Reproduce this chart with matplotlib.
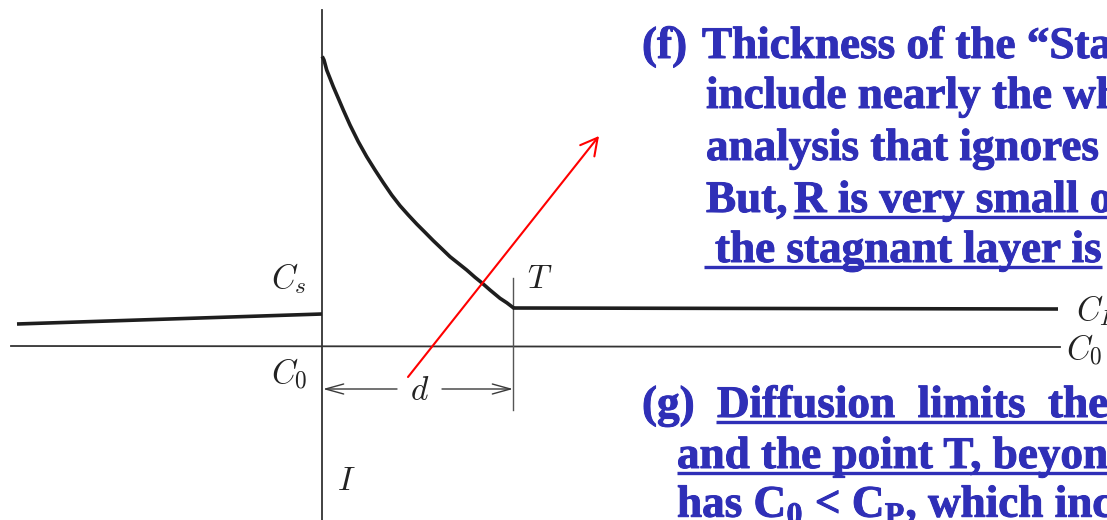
import matplotlib.pyplot as plt
import matplotlib.patheffects as pe

# concentration profile near the interface, in slide pixel coordinates
left_x = [17, 322]
left_y = [324, 314]
curve_x = [323, 324, 326.7, 330, 333.3, 338.3, 343.3, 350, 358.3, 366.7, 375,
           383.3, 391.7, 400, 408.3, 416.7, 425, 433.3, 441.7, 450, 458.3,
           466.7, 475, 481.7, 490, 500, 506.7, 513]
curve_y = [58, 60, 70, 78.3, 86.7, 98.3, 110, 125, 141.7, 156.7, 170, 182.7,
           195, 205.7, 215, 224, 232.3, 240.7, 248.7, 256.7, 263.3, 270,
           277.3, 282.7, 290, 298.3, 302.7, 307.5]
right_x = [513, 1058]
right_y = [308, 309]
base_x = [11, 1060]
base_y = [346, 347]

interface_x = [322, 322]
interface_y = [10, 520]
t_x = [513, 513]
t_y = [278, 410]
d_y = 389
d_left = [397, 323]
d_right = [442, 513]
red_tail = (408, 377)
red_head = (599, 136)

labels = [
    ("$C_s$", 289, 279, "center"),
    ("$C_0$", 289, 374, "center"),
    ("$T$", 540, 279, "center"),
    ("$d$", 420, 390, "center"),
    ("$I$", 346, 480, "center"),
    ("$C_P$", 1076, 311, "left"),
    ("$C_0$", 1066, 350, "left"),
]

# slide text: (x, baseline, text, underline start or None)
lines = [
    (642, 58, "(f)", None),
    (702, 58, "Thickness of the \u201cStagnant layer\u201d", None),
    (706, 108, "include nearly the whole", None),
    (706, 160, "analysis that ignores", None),
    (706, 212, "But,", None),
    (794, 212, "R is very small or", 793),
    (715, 262, "the stagnant layer is", 704),
    (642, 417, "(g)", None),
    (717, 417, "Diffusion  limits  the", 716),
    (677, 468, "and the point T, beyond", 677),
    (677, 517, r"has C$_\mathbf{0}$ < C$_\mathbf{P}$, which increases", None),
]

plt.rcParams['mathtext.bf'] = 'Liberation Serif:bold'
plt.rcParams['mathtext.rm'] = 'Liberation Serif:bold'

ink = '#1e1e1e'
blue = '#2f2fb7'

fig = plt.figure(figsize=(11.07, 5.2), dpi=100)
ax = fig.add_axes([0, 0, 1, 1])
ax.set_xlim(0, 1107)
ax.set_ylim(520, 0)
ax.axis('off')

ax.plot(base_x, base_y, color='#333333', lw=1.3)
ax.plot(interface_x, interface_y, color='#333333', lw=1.3)
ax.plot(t_x, t_y, color='#555555', lw=1.0)
ax.plot(left_x, left_y, color=ink, lw=2.6, solid_capstyle='butt')
ax.plot(curve_x, curve_y, color=ink, lw=2.6, solid_joinstyle='round')
ax.plot(right_x, right_y, color=ink, lw=2.6, solid_capstyle='butt')

for xs in (d_left, d_right):
    ax.annotate('', xy=(xs[1], d_y), xytext=(xs[0], d_y),
                arrowprops=dict(arrowstyle='->,head_length=1.3,head_width=0.36',
                                mutation_scale=10, color='#3a3a3a', lw=1.0,
                                shrinkA=0, shrinkB=0))

for s, x, y, ha in labels:
    ax.text(x, y, s, fontsize=24, ha=ha, va='center', color='#222222',
            math_fontfamily='cm')

ax.annotate('', xy=red_head, xytext=red_tail,
            arrowprops=dict(arrowstyle='->,head_length=1.2,head_width=0.65',
                            mutation_scale=10, color='red', lw=1.5,
                            shrinkA=0, shrinkB=0))

renderer = fig.canvas.get_renderer()
inv = ax.transData.inverted()
heavy = [pe.withStroke(linewidth=0.7, foreground=blue)]
for x, y, s, ul in lines:
    t = ax.text(x, y, s, fontsize=32.5, fontweight='bold', family='Liberation Serif',
                color=blue, ha='left', va='baseline', math_fontfamily='custom',
                path_effects=heavy)
    if ul is not None:
        bb = t.get_window_extent(renderer)
        x_end = inv.transform((bb.x1, bb.y0))[0]
        ax.plot([ul, x_end], [y + 5, y + 5], color=blue, lw=2.4,
                solid_capstyle='butt')

fig.savefig('out.png', dpi=100)
